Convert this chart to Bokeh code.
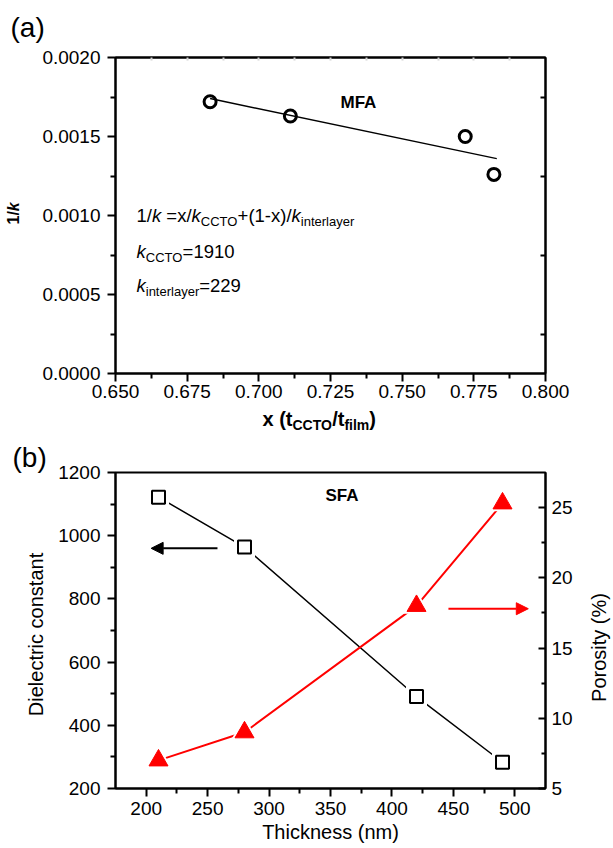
from math import pi
from bokeh.plotting import figure
from bokeh.models import (Range1d, LinearAxis, FixedTicker, Label, Arrow, NormalHead,
                          PrintfTickFormatter)
from bokeh.layouts import column, row
from bokeh.embed import file_html
from bokeh.resources import INLINE

FONT = "Liberation Sans"

# ---------------- data: panel (a) ----------------
a_x = [0.683, 0.711, 0.772, 0.782]
a_inv_k = [0.00172, 0.00163, 0.00150, 0.00126]
a_fit_x = [0.683, 0.783]
a_fit_inv_k = [0.00174, 0.00136]
a_xticks = [0.650, 0.675, 0.700, 0.725, 0.750, 0.775, 0.800]
a_yticks = [0.0000, 0.0005, 0.0010, 0.0015, 0.0020]

# ---------------- data: panel (b) ----------------
b_thickness = [210, 280, 420, 490]
b_dielectric = [1122, 964, 491, 283]
b_porosity = [7.0, 9.0, 18.0, 25.3]
b_xticks = [200, 250, 300, 350, 400, 450, 500]
b_yticks = [200, 400, 600, 800, 1000, 1200]
b_pticks = [5, 10, 15, 20, 25]
b_arrow_black = dict(x0=258, x1=204, y=960)
b_arrow_red = dict(x0=446, x1=511, y=17.8)


def mids(t):
    return [(a + b) / 2 for a, b in zip(t, t[1:])]


W_REG = {'.': 278, ' ': 278, '(': 333, ')': 333, '+': 584, '-': 333, '/': 278, '=': 584,
         'x': 500, 'k': 500, 'C': 722, 'T': 611, 'O': 778, 'i': 222, 'n': 556, 't': 278,
         'e': 556, 'r': 333, 'l': 222, 'a': 556, 'y': 500}
W_BOLD = {' ': 278, '(': 333, ')': 333, 't': 333, 'C': 722, 'T': 611, 'O': 778, '/': 278,
          'f': 333, 'i': 278, 'l': 278, 'm': 889, 'k': 556, 'x': 556}


def tw(s, size, bold):
    tab = W_BOLD if bold else W_REG
    return sum(tab.get(c, 556) for c in s) * size / 1000.0


def no_align(fig):
    try:
        fig.frame_align = False
    except Exception:
        pass


def put(p, fl, fb, px, py, text, size, bold=False, italic=False, angle=0.0,
        align="left", color="black"):
    """Place a text with its baseline at picture pixel (px, py);
    (fl, fb) = left / bottom of p's frame in picture pixels."""
    style = ("bold italic" if (bold and italic) else "bold" if bold
             else "italic" if italic else "normal")
    shift = 4 + 0.18 * size          # renderer draws the baseline this much lower
    if angle == 0.0:
        py -= shift
    else:
        px -= shift
    p.add_layout(Label(x=px - fl, y=fb - py, x_units="screen", y_units="screen",
                       text=text, text_font=FONT, text_font_size=f"{size}px",
                       text_font_style=style, text_color=color, angle=angle,
                       text_align=align, text_baseline="alphabetic"))


def runs(p, fl, fb, px, py, parts, angle=0.0):
    adv = 0.0
    for text, size, bold, italic, dy in parts:
        lead = len(text) - len(text.lstrip(" "))
        adv += tw(" " * lead, size, bold)
        body = text.lstrip(" ")
        if angle == 0.0:
            put(p, fl, fb, px + adv, py + dy, body, size, bold, italic)
        else:
            put(p, fl, fb, px + dy, py - adv, body, size, bold, italic, angle=angle)
        adv += tw(body, size, bold)


def style_axis(ax, tick_out=8, minor_out=5, tick_in=0, minor_in=0, standoff=5):
    ax.axis_line_width = 2
    ax.axis_line_color = "black"
    ax.major_tick_line_width = 2
    ax.minor_tick_line_width = 2
    ax.major_tick_out = tick_out
    ax.major_tick_in = tick_in
    ax.minor_tick_out = minor_out
    ax.minor_tick_in = minor_in
    ax.major_label_standoff = standoff
    ax.major_label_text_font = FONT
    ax.major_label_text_font_size = "19px"
    ax.major_label_text_color = "black"
    ax.axis_label_text_font = FONT
    ax.axis_label_text_font_size = "20px"
    ax.axis_label_text_font_style = "normal"
    ax.axis_label_text_color = "black"


def tick_only_axis(ax, tick_in, color="black"):
    ax.axis_line_width = 2
    ax.major_tick_in = 0
    ax.major_tick_out = 0
    ax.minor_tick_in = tick_in
    ax.minor_tick_out = 0
    ax.minor_tick_line_width = 2
    ax.minor_tick_line_color = color


def strip(w, h):
    s = figure(width=w, height=h, x_range=Range1d(0, w), y_range=Range1d(0, h),
               x_axis_type=None, y_axis_type=None, output_backend="svg",
               toolbar_location=None, min_border=0, min_border_left=0, min_border_right=0,
               min_border_top=0, min_border_bottom=0)
    s.outline_line_color = None
    no_align(s)
    return s


# ================= top strip with "(a)" =================
T_TOP, T_H = 0, 45
top_strip = strip(613, T_H)
put(top_strip, 0, T_TOP + T_H, 10, 36, "(a)", 28)

# ================= panel (a) =================
R1_TOP, R1_H = 45, 361
FLa, FBa = 115, 373   # frame left / bottom in picture pixels
left_strip = strip(30, R1_H)
runs(left_strip, 0, R1_TOP + R1_H, 20, 224,
     [("1/", 16, True, False, 0), ("k", 16, True, True, 0)], angle=pi / 2)

pa = figure(width=583, height=R1_H, x_range=Range1d(0.65, 0.80), y_range=Range1d(0.0, 0.002),
            output_backend="svg", toolbar_location=None,
            min_border_left=85, min_border_right=68, min_border_top=12, min_border_bottom=33)
no_align(pa)
pa.grid.visible = False
pa.outline_line_color = "black"
pa.outline_line_width = 2
pa.outline_line_alpha = 1.0

xa = pa.xaxis[0]
xa.ticker = FixedTicker(ticks=a_xticks, minor_ticks=mids(a_xticks))
xa.formatter = PrintfTickFormatter(format="%.3f")
style_axis(xa, standoff=3)
ya = pa.yaxis[0]
ya.ticker = FixedTicker(ticks=a_yticks, minor_ticks=mids(a_yticks))
ya.formatter = PrintfTickFormatter(format="%.4f")
style_axis(ya, standoff=7)

ra = LinearAxis(ticker=FixedTicker(ticks=[], minor_ticks=mids(a_yticks)))
tick_only_axis(ra, 5)
pa.add_layout(ra, "right")
ta = LinearAxis(ticker=FixedTicker(ticks=[], minor_ticks=sorted(a_xticks[1:-1] + mids(a_xticks))))
tick_only_axis(ta, 3, color="#d4d4d4")
pa.add_layout(ta, "above")

pa.line(a_fit_x, a_fit_inv_k, line_color="black", line_width=1.5)
pa.scatter(a_x, a_inv_k, marker="circle", size=12, line_width=3,
           line_color="black", fill_color=None)

put(pa, FLa, FBa, 340, 109, "MFA", 17, bold=True)
M, S = 18.5, 13
runs(pa, FLa, FBa, 136, 222, [("1/", M, False, False, 0), ("k", M, False, True, 0),
                               (" =x/", M, False, False, 0), ("k", M, False, True, 0),
                               ("CCTO", S, False, False, 5), ("+(1-x)/", M, False, False, 0),
                               ("k", M, False, True, 0), ("interlayer", S, False, False, 5)])
runs(pa, FLa, FBa, 136, 258, [("k", M, False, True, 0), ("CCTO", S, False, False, 5),
                               ("=1910", M, False, False, 0)])
runs(pa, FLa, FBa, 136, 292, [("k", M, False, True, 0), ("interlayer", S, False, False, 5),
                               ("=229", M, False, False, 0)])

# ================= middle strip: x title of (a) =================
MID_TOP, MID_H = 406, 34
mid_strip = strip(613, MID_H)
runs(mid_strip, 0, MID_TOP + MID_H, 262, 426,
     [("x (t", 20, True, False, 0), ("CCTO", 14, True, False, 5),
      ("/t", 20, True, False, 0), ("film", 14, True, False, 5), (")", 20, True, False, 0)])

# ================= panel (b) =================
PB_TOP, PB_H = 440, 408
LB_W = 55
left_strip_b = strip(LB_W, PB_H)
put(left_strip_b, 0, PB_TOP + PB_H, 12, 466, "(b)", 28)
put(left_strip_b, 0, PB_TOP + PB_H, 43, 634, "Dielectric constant", 20, angle=pi / 2,
    align="center")

pb = figure(width=528, height=PB_H, x_range=Range1d(175, 525), y_range=Range1d(200, 1200),
            output_backend="svg", toolbar_location=None,
            min_border_left=60, min_border_right=38, min_border_top=32, min_border_bottom=60)
no_align(pb)
pb.extra_y_ranges = {"por": Range1d(5, 27.5)}
pb.grid.visible = False
pb.outline_line_color = "black"
pb.outline_line_width = 2
pb.outline_line_alpha = 1.0

xb = pb.xaxis[0]
xb.ticker = FixedTicker(ticks=b_xticks, minor_ticks=mids(b_xticks))
style_axis(xb, standoff=5)
xb.axis_label = "Thickness (nm)"
xb.axis_label_standoff = 3
yb = pb.yaxis[0]
yb.ticker = FixedTicker(ticks=b_yticks, minor_ticks=mids(b_yticks))
style_axis(yb, standoff=7)
rb = LinearAxis(y_range_name="por", ticker=FixedTicker(ticks=b_pticks, minor_ticks=mids(b_pticks)))
style_axis(rb, tick_out=0, minor_out=0, tick_in=7, minor_in=4, standoff=6)
pb.add_layout(rb, "right")

pb.line(b_thickness, b_dielectric, line_color="black", line_width=1.5)
pb.line(b_thickness, b_porosity, y_range_name="por", line_color="red", line_width=2)
pb.scatter(b_thickness, b_dielectric, marker="square", size=21, fill_color="white", line_color=None)
pb.scatter(b_thickness, b_porosity, y_range_name="por", marker="triangle", size=27,
           fill_color="white", line_color=None)
pb.scatter(b_thickness, b_dielectric, marker="square", size=13, line_width=2,
           line_color="black", fill_color="white")
pb.scatter(b_thickness, b_porosity, y_range_name="por", marker="triangle", size=19,
           line_color="red", fill_color="red")

pb.add_layout(Arrow(end=NormalHead(size=12, fill_color="black", line_color="black"),
                    x_start=b_arrow_black["x0"], y_start=b_arrow_black["y"],
                    x_end=b_arrow_black["x1"], y_end=b_arrow_black["y"],
                    line_color="black", line_width=2))
pb.add_layout(Arrow(end=NormalHead(size=12, fill_color="red", line_color="red"),
                    x_start=b_arrow_red["x0"], y_start=b_arrow_red["y"],
                    x_end=b_arrow_red["x1"], y_end=b_arrow_red["y"],
                    y_range_name="por", line_color="red", line_width=2))

put(pb, 115, 788, 325, 502, "SFA", 17, bold=True)

# right strip with the porosity title
right_strip = strip(30, PB_H)
put(right_strip, 583, PB_TOP + PB_H, 606, 647, "Porosity (%)", 20, angle=pi / 2, align="center")

layout = column(top_strip, row(left_strip, pa), mid_strip, row(left_strip_b, pb, right_strip))
open("out.html", "w").write(file_html(layout, INLINE))
